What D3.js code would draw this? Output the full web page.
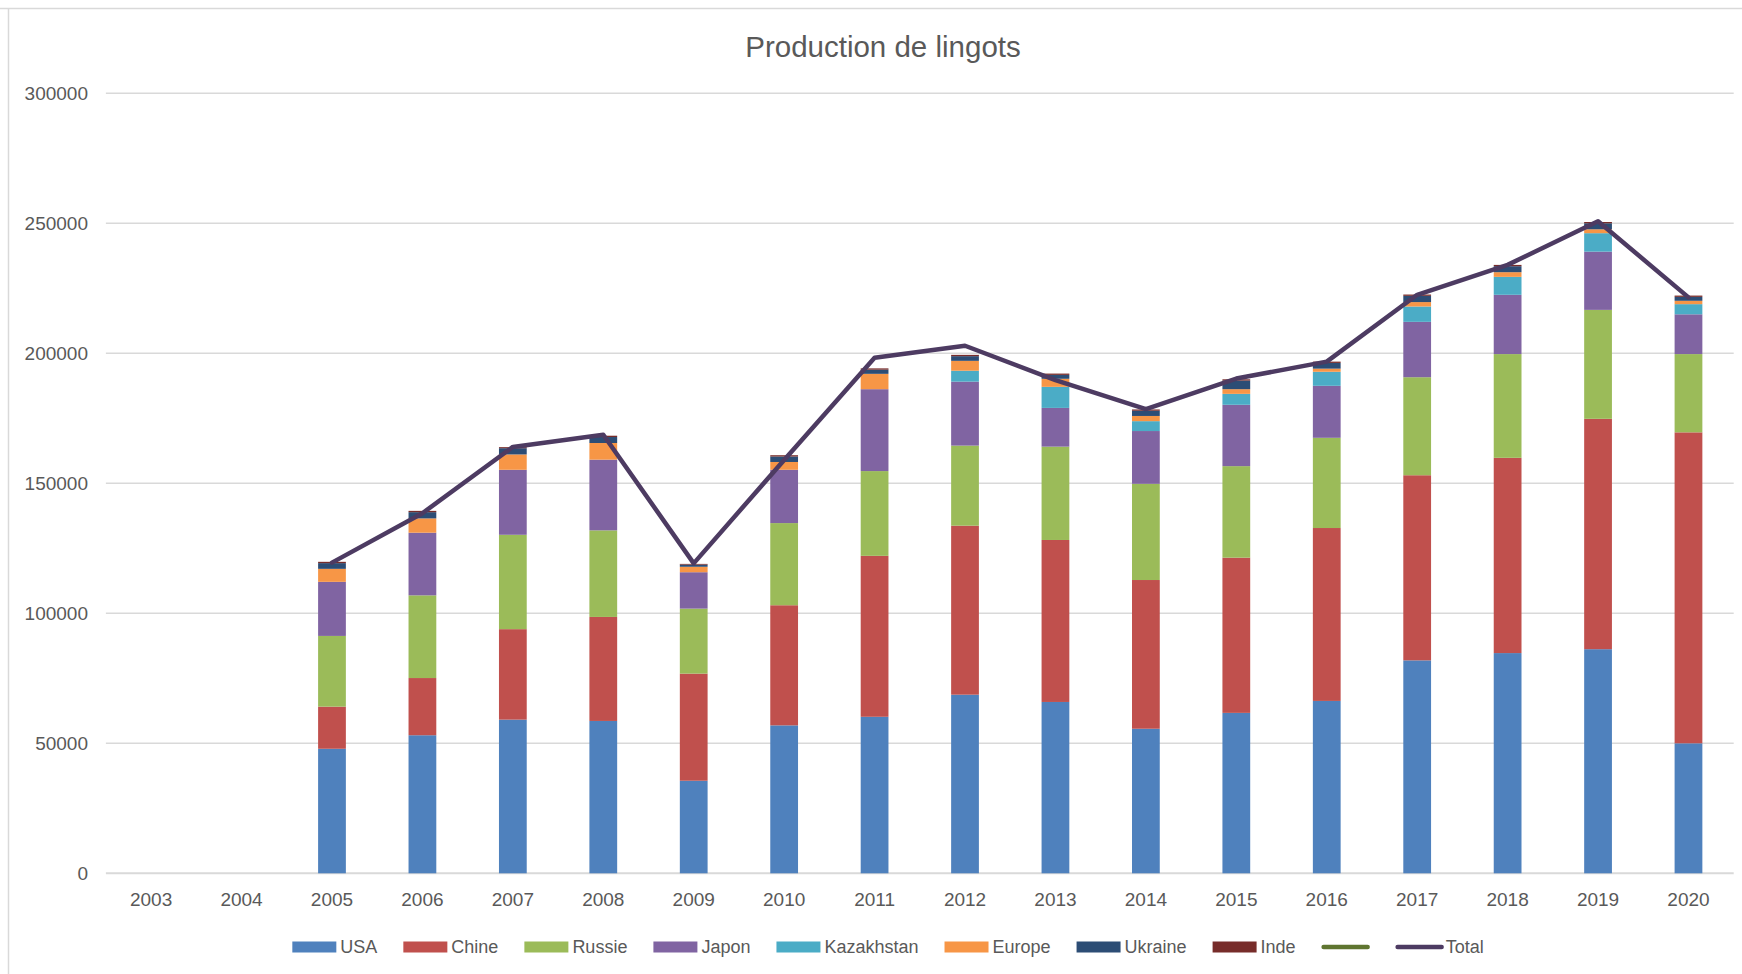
<!DOCTYPE html>
<html>
<head>
<meta charset="utf-8">
<script src="https://cdnjs.cloudflare.com/ajax/libs/d3/7.8.5/d3.min.js"></script>
<style>
    body { margin: 0; background: #fff; }
    text { font-family: "Liberation Sans", Arial, sans-serif; fill: #595959; }
</style>
</head>
<body>
<svg class="chart"></svg>
<script>
var width = 1742;
var height = 974;

var margin = {
    top: 93.3,
    right: 8.3,
    bottom: 100.7,
    left: 105.9
};

// data
var annees = ["2003", "2004", "2005", "2006", "2007", "2008", "2009", "2010", "2011",
    "2012", "2013", "2014", "2015", "2016", "2017", "2018", "2019", "2020"];
var usa = [null, null, 47900, 53100, 59100, 58600, 35600, 56900, 60200, 68700, 65900, 55600, 61700, 66300, 81900, 84700, 86200, 50000];
var chine = [null, null, 16200, 22000, 34800, 40000, 41200, 46200, 61900, 65000, 62300, 57200, 59700, 66500, 71200, 75100, 88600, 119600];
var russie = [null, null, 27200, 31800, 36300, 33300, 25000, 31600, 32600, 30800, 35900, 37000, 35200, 34700, 37700, 39900, 41900, 30100];
var japon = [null, null, 20800, 24100, 25000, 27200, 14000, 20500, 31500, 24600, 14900, 20300, 23600, 20000, 21300, 22800, 22400, 15300];
var kazakhstan = [null, null, 0, 0, 0, 0, 0, 0, 0, 4200, 8100, 3800, 4200, 5400, 5900, 6900, 7100, 3900];
var europe = [null, null, 5000, 5500, 5900, 6400, 2100, 3000, 5900, 3800, 3100, 2000, 1800, 1200, 1700, 1800, 1500, 1300];
var ukraine = [null, null, 2200, 2400, 2400, 2300, 800, 2100, 1600, 1800, 1500, 2000, 3300, 2200, 2400, 2300, 2300, 1500];
var inde = [null, null, 500, 500, 400, 500, 300, 500, 500, 500, 500, 500, 500, 500, 500, 500, 500, 500];
var sansNom = [null, null, null, null, null, null, null, null, null, null, null, null, null, null, null, null, null, null];
var total = [null, null, 119500, 138500, 164000, 168700, 119200, 159000, 198300, 202900, 189700, 178500, 190300, 196800, 222500, 234000, 250800, 221500];

var yTicks = [0, 50000, 100000, 150000, 200000, 250000, 300000];

var pays = ["USA", "Chine", "Russie", "Japon", "Kazakhstan", "Europe", "Ukraine", "Inde"];
var valeurs = [usa, chine, russie, japon, kazakhstan, europe, ukraine, inde];
var couleurs = ["#4f81bd", "#c0504d", "#9bbb59", "#8064a2", "#4bacc6", "#f79646", "#2c4d75", "#772c2a"];
var couleurVerte = "#5f7530";
var couleurTotal = "#4d3b62";

// table for d3.stack
var table = annees.map(function(a, i) {
    var row = { annee: a };
    pays.forEach(function(p, j) { row[p] = valeurs[j][i] || 0; });
    return row;
});

var chart = d3.select(".chart")
    .attr("width", width)
    .attr("height", height);

// chart area border (top + left only visible)
chart.append("line")
    .attr("x1", 0).attr("x2", width)
    .attr("y1", 8.5).attr("y2", 8.5)
    .attr("stroke", "#d9d9d9").attr("stroke-width", 1.5);
chart.append("line")
    .attr("x1", 8.5).attr("x2", 8.5)
    .attr("y1", 8).attr("y2", height)
    .attr("stroke", "#d9d9d9").attr("stroke-width", 1.5);

chart.append("text")
    .attr("x", 883)
    .attr("y", 57)
    .attr("text-anchor", "middle")
    .style("font-size", "29.5px")
    .text("Production de lingots");

var x = d3.scaleBand()
    .domain(annees)
    .range([margin.left, width - margin.right])
    .paddingInner(0.693)
    .paddingOuter(0.3465);

var y = d3.scaleLinear()
    .domain([0, 300000])
    .range([height - margin.bottom, margin.top]);

var g = chart.append("g");

// gridlines
g.selectAll("line.grid")
    .data(yTicks)
    .enter()
    .append("line")
    .attr("class", "grid")
    .attr("x1", margin.left)
    .attr("x2", width - margin.right)
    .attr("y1", function(d) { return y(d); })
    .attr("y2", function(d) { return y(d); })
    .attr("stroke", "#d9d9d9")
    .attr("stroke-width", function(d) { return d === 0 ? 2 : 1.5; });

// y axis labels
var yAxis = d3.axisLeft(y)
    .tickValues(yTicks)
    .tickFormat(d3.format("d"))
    .tickSize(0)
    .tickPadding(0);

chart.append("g")
    .attr("transform", "translate(88,0)")
    .call(yAxis)
    .call(function(s) { s.select(".domain").remove(); })
    .selectAll("text")
    .style("font-size", "19px")
    .attr("fill", "#595959");

// x axis labels
var xAxis = d3.axisBottom(x)
    .tickSize(0)
    .tickPadding(0);

chart.append("g")
    .attr("transform", "translate(0," + (y(0) + 19) + ")")
    .call(xAxis)
    .call(function(s) { s.select(".domain").remove(); })
    .selectAll("text")
    .style("font-size", "19px")
    .attr("fill", "#595959");

// stacked bars
var series = d3.stack().keys(pays)(table);

g.selectAll("g.serie")
    .data(series)
    .enter()
    .append("g")
    .attr("class", "serie")
    .attr("fill", function(d, i) { return couleurs[i]; })
    .selectAll("rect")
    .data(function(d) { return d; })
    .enter()
    .append("rect")
    .attr("x", function(d) { return x(d.data.annee); })
    .attr("width", x.bandwidth())
    .attr("y", function(d) { return y(d[1]); })
    .attr("height", function(d) { return y(d[0]) - y(d[1]); });

// total line
var line = d3.line()
    .defined(function(d) { return d != null; })
    .x(function(d, i) { return x(annees[i]) + x.bandwidth() / 2; })
    .y(function(d) { return y(d); });

g.append("path")
    .datum(total)
    .attr("fill", "none")
    .attr("stroke", couleurTotal)
    .attr("stroke-width", 4.5)
    .attr("stroke-linejoin", "round")
    .attr("stroke-linecap", "round")
    .attr("d", line);

// legend
var legendItems = pays.map(function(p, i) { return { nom: p, couleur: couleurs[i], type: "rect" }; });
legendItems.push({ nom: "", couleur: couleurVerte, type: "line" });
legendItems.push({ nom: "Total", couleur: couleurTotal, type: "line" });

var legend = chart.append("g");
var legendY = 947;
var cx = 0;

legendItems.forEach(function(d) {
    var item = legend.append("g").attr("transform", "translate(" + cx + ",0)");
    if (d.type === "rect") {
        item.append("rect")
            .attr("x", 0).attr("y", legendY - 5.5)
            .attr("width", 44).attr("height", 11)
            .attr("fill", d.couleur);
    } else {
        item.append("line")
            .attr("x1", 2).attr("x2", 46)
            .attr("y1", legendY).attr("y2", legendY)
            .attr("stroke", d.couleur)
            .attr("stroke-width", 4.5)
            .attr("stroke-linecap", "round");
    }
    var w = 0;
    if (d.nom) {
        var t = item.append("text")
            .attr("x", d.type === "rect" ? 48 : 50)
            .attr("y", legendY)
            .attr("dy", "0.35em")
            .style("font-size", "18px")
            .text(d.nom);
        w = t.node().getComputedTextLength() + 4;
    }
    cx += (d.type === "rect" ? 44 : 48) + w + 26;
});

var legendW = cx - 26;
legend.attr("transform", "translate(" + (889 - legendW / 2) + ",0)");
</script>
</body>
</html>
